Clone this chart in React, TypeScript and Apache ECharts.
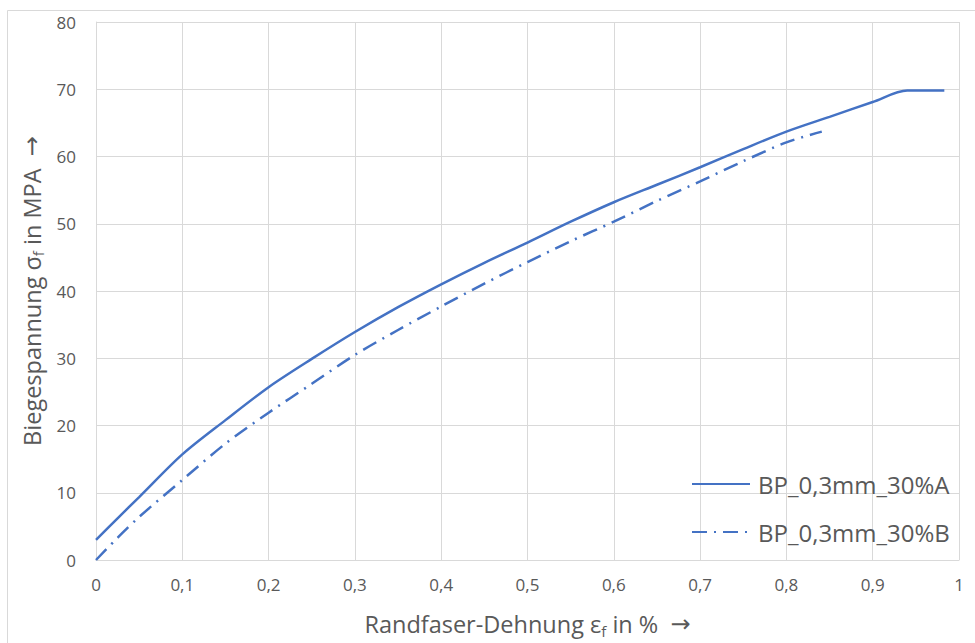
import React, { useEffect, useRef } from "react";
import * as echarts from "echarts";

const seriesNames = ["BP_0,3mm_30%A", "BP_0,3mm_30%B"];

const strainA = [0, 0.025, 0.05, 0.1, 0.15, 0.2, 0.25, 0.3, 0.35, 0.4, 0.45, 0.5, 0.55, 0.6, 0.65, 0.7, 0.75, 0.8, 0.85, 0.9, 0.94, 0.983];
const stressA = [3.0, 6.2, 9.35, 15.7, 20.8, 25.7, 29.9, 33.9, 37.6, 41.0, 44.2, 47.2, 50.3, 53.2, 55.8, 58.4, 61.1, 63.7, 65.9, 68.1, 69.8, 69.8];

const strainB = [0, 0.025, 0.05, 0.1, 0.15, 0.2, 0.25, 0.3, 0.35, 0.4, 0.45, 0.5, 0.55, 0.6, 0.65, 0.7, 0.75, 0.8, 0.841];
const stressB = [0, 3.3, 6.4, 11.9, 17.3, 21.9, 26.2, 30.5, 34.2, 37.7, 41.1, 44.3, 47.4, 50.3, 53.4, 56.3, 59.3, 62.1, 63.7];

const xTicks = { min: 0, max: 1, interval: 0.1 };
const yTicks = { min: 0, max: 80, interval: 10 };

const FONT = "'Open Sans', 'Noto Sans', sans-serif";
const TXT = "#595959";
const GRID = "#D9D9D9";
const BLUE = "#4472C4";

const nameRich = {
  s: { fontSize: 15, lineHeight: 18, verticalAlign: "bottom", color: TXT, fontFamily: FONT },
  a: { fontSize: 24, lineHeight: 28, color: TXT, fontFamily: "'DejaVu Sans', sans-serif" },
};

export default function App() {
  const ref = useRef<HTMLDivElement>(null);
  useEffect(() => {
    if (!ref.current) return;
    const chart = echarts.init(ref.current, null, { renderer: "svg" });
    const fmtX = (v: number) => (v === 0 || v === 1 ? String(v) : v.toFixed(1).replace(".", ","));
    chart.setOption({
      animation: false,
      backgroundColor: "#ffffff",
      textStyle: { fontFamily: FONT },
      graphic: [
        {
          type: "rect",
          shape: { x: 7.5, y: 10.5, width: 1000, height: 700 },
          style: { fill: "none", stroke: GRID, lineWidth: 1 },
          silent: true,
        },
      ],
      grid: { left: 96, top: 22, right: 16, bottom: 81, containLabel: false },
      legend: {
        orient: "vertical",
        left: 686,
        top: 467,
        itemWidth: 58,
        itemHeight: 14,
        itemGap: 24,
        data: seriesNames,
        itemStyle: { opacity: 0 },
        textStyle: { fontSize: 24, color: TXT, fontFamily: FONT, padding: [0, 0, 0, 3] },
      },
      xAxis: {
        type: "value",
        min: xTicks.min,
        max: xTicks.max,
        interval: xTicks.interval,
        name: "Randfaser-Dehnung ε{s|f} in %  {a|→}",
        nameLocation: "middle",
        nameGap: 50,
        nameTextStyle: { fontSize: 23.5, color: TXT, fontFamily: FONT, lineHeight: 28, rich: nameRich },
        axisLine: { show: true, lineStyle: { color: GRID, width: 1 } },
        axisTick: { show: false },
        axisLabel: { fontSize: 17, color: TXT, fontFamily: FONT, margin: 16, formatter: fmtX },
        splitLine: { show: true, lineStyle: { color: GRID, width: 1 } },
      },
      yAxis: {
        type: "value",
        min: yTicks.min,
        max: yTicks.max,
        interval: yTicks.interval,
        name: "Biegespannung σ{s|f} in MPA  {a|→}",
        nameLocation: "middle",
        nameGap: 48,
        nameTextStyle: { fontSize: 23.5, color: TXT, fontFamily: FONT, lineHeight: 28, rich: nameRich },
        axisLine: { show: true, lineStyle: { color: GRID, width: 1 } },
        axisTick: { show: false },
        axisLabel: { fontSize: 17, color: TXT, fontFamily: FONT, margin: 20 },
        splitLine: { show: true, lineStyle: { color: GRID, width: 1 } },
      },
      series: [
        {
          name: seriesNames[0],
          type: "line",
          symbol: "none",
          smooth: 0.3,
          data: strainA.map((x, i) => [x, stressA[i]]),
          lineStyle: { color: BLUE, width: 2.5 },
          itemStyle: { color: BLUE },
        },
        {
          name: seriesNames[1],
          type: "line",
          symbol: "none",
          smooth: 0.3,
          data: strainB.map((x, i) => [x, stressB[i]]),
          lineStyle: { color: BLUE, width: 2.5, type: [15, 7, 2, 7] },
          itemStyle: { color: BLUE },
        },
      ],
    });
    return () => chart.dispose();
  }, []);
  return (
    <div
      ref={ref}
      style={{ position: "absolute", left: 0, top: 0, width: 975, height: 643 }}
    />
  );
}
